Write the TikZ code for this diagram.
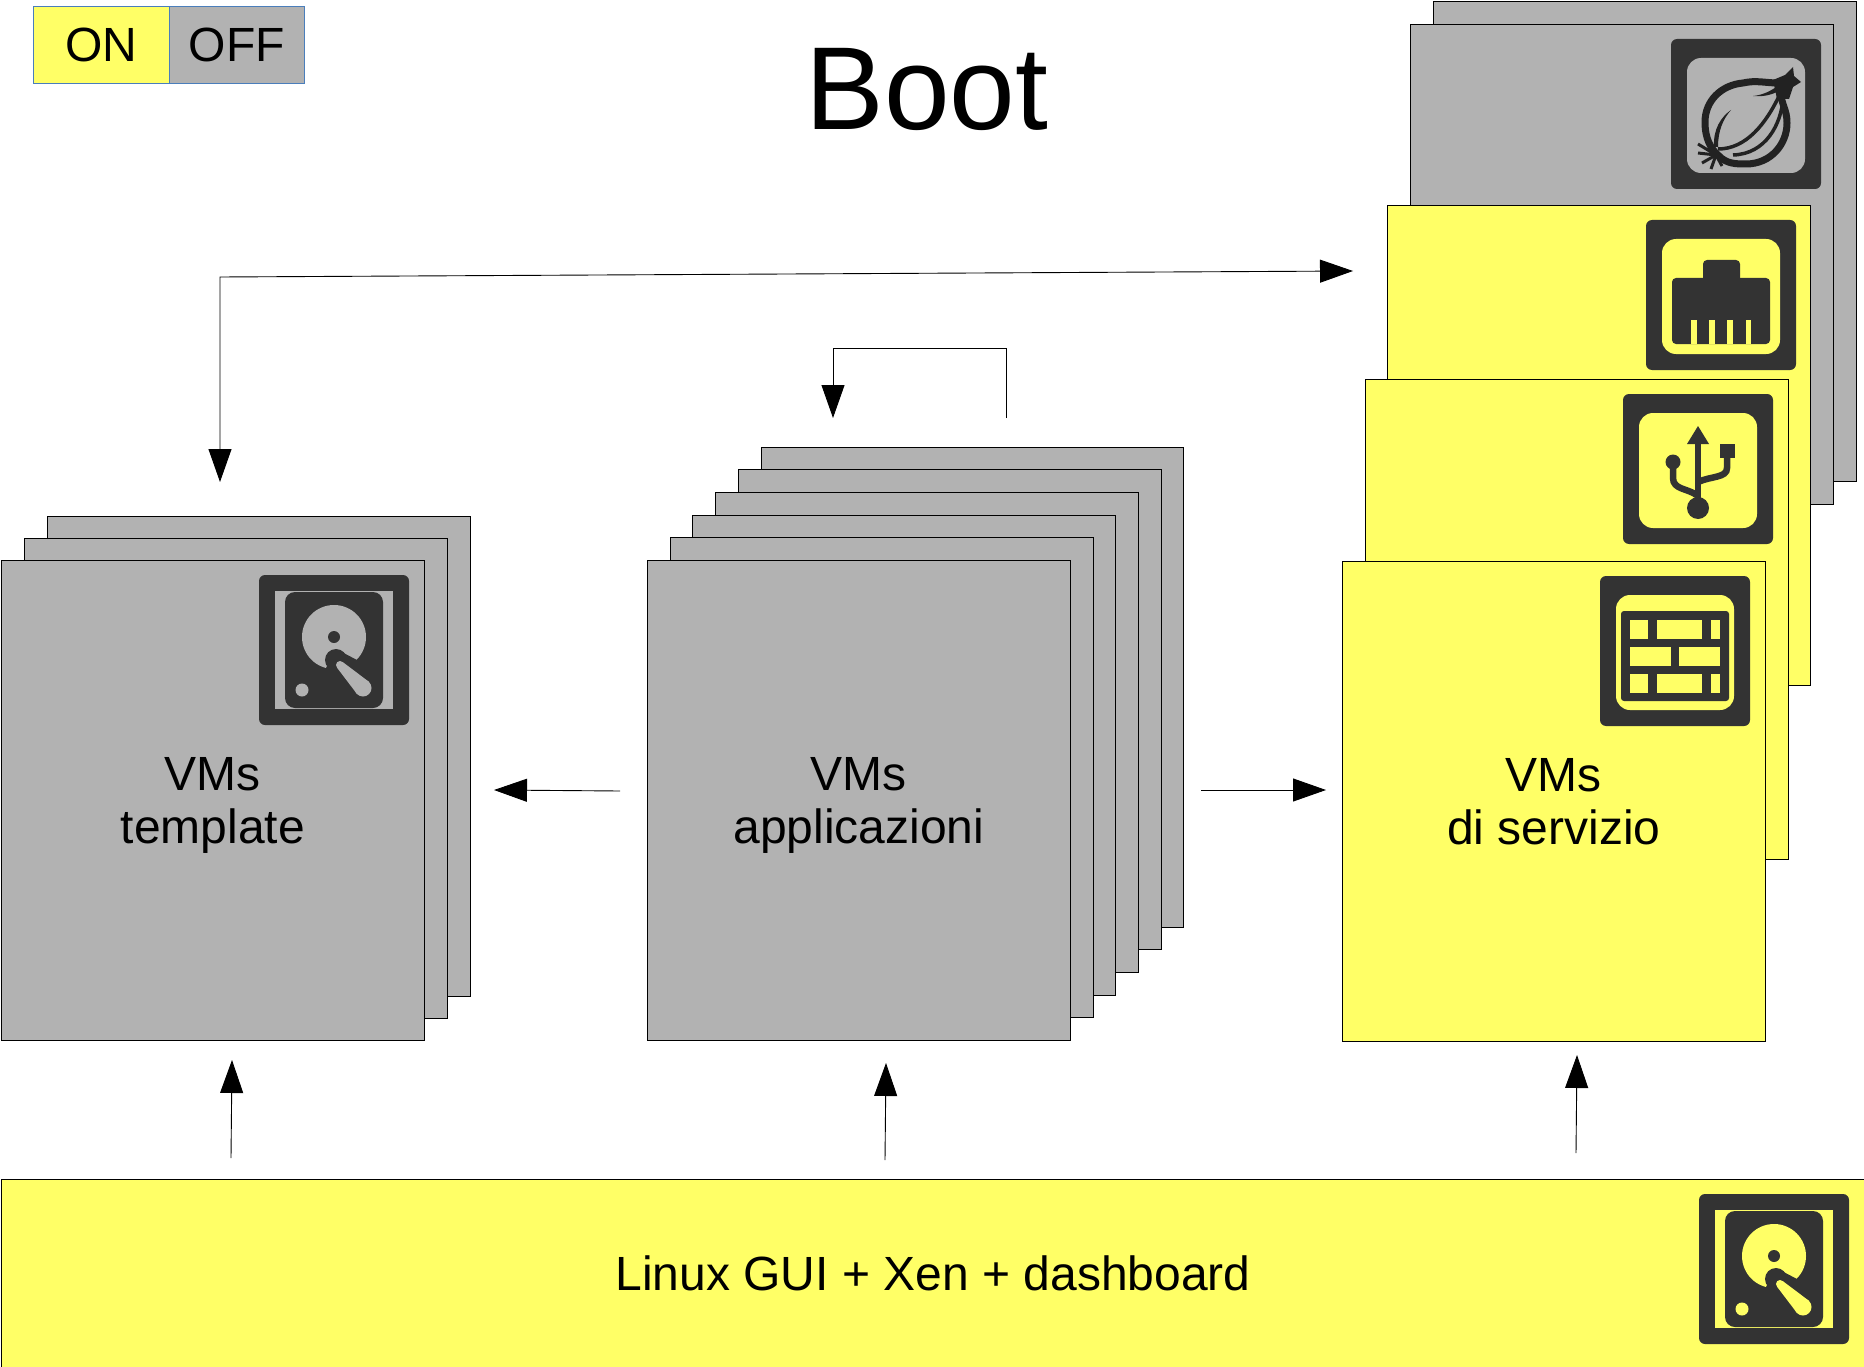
\documentclass[tikz,border=0pt]{standalone}
\usepackage{xcolor}
\usepackage{fontspec}
\setmainfont{Liberation Sans}
\usepackage{tikz}
\usetikzlibrary{shapes, arrows.meta, positioning}
\definecolor{OnYellow}{HTML}{FFFF66}
\definecolor{OffGray}{HTML}{B2B2B2}
\definecolor{IconDark}{HTML}{333333}
\definecolor{OnionDark}{HTML}{222222}
\definecolor{LegendBlue}{HTML}{4A7EBB}
\def\IconBase#1{%
  \fill[IconDark, rounded corners=6pt] (0,0) rectangle (150,150);
  \fill[#1, rounded corners=14pt] (16,19) rectangle (134,134);
}
\def\IconDisk#1{%
  \fill[IconDark, rounded corners=6pt] (0,0) rectangle (150,150);
  \fill[#1] (16,16) rectangle (134,134);
  \fill[IconDark, rounded corners=10pt] (26,17) rectangle (124,133);
  \fill[#1] (75,62) circle (32);
  \fill[IconDark] (75,62) circle (6);
  \fill[IconDark] (77,85) circle (11);
  \fill[IconDark] (77,74) -- (98,85) -- (90,110) -- (66,95) -- cycle;
  \fill[#1] (43,115) circle (6.5);
  \fill[#1] (81,90) circle (4);
  \fill[#1] (104,113) circle (8.5);
  \fill[#1] (83.8,87.1) -- (110.2,107) -- (98,119) -- (78.2,92.9) -- cycle;
}
\begin{document}
\begin{tikzpicture}
  [
    x=1pt, y=-1pt,
    Off/.style={rectangle, draw=black, fill=OffGray, line width=1pt, inner sep=0pt, anchor=north west, minimum width=422.5pt, minimum height=480pt, align=center, font=\fontsize{48}{53}\selectfont},
    On/.style={Off, fill=OnYellow},
    Legend/.style={rectangle, draw=LegendBlue, line width=1pt, inner sep=0pt, anchor=north west, minimum width=135.5pt, minimum height=77pt, font=\fontsize{48}{53}\selectfont},
    Link/.style={draw, line width=0.9pt, -{Triangle[length=33pt, width=23pt]}}
  ]
  \useasboundingbox (0,0) rectangle (1864,1367);
  % Legend and title
  \node[Legend, fill=OnYellow] (on) at(33, 6) {ON};
  \node[Legend, fill=OffGray] (off) at(168.5, 6) {OFF};
  \node[font=\fontsize{118}{124}\selectfont] (title) at(927, 89) {Boot};
  % VMs template
  \node[Off] (tmpl3) at(47, 515.5) {};
  \node[Off] (tmpl2) at(24, 538) {};
  \node[Off] (tmpl1) at(1, 560) {VMs\\\smash{template}};
  % VMs applicazioni
  \node[Off] (app6) at(760.5, 447) {};
  \node[Off] (app5) at(738, 469) {};
  \node[Off] (app4) at(715, 492) {};
  \node[Off] (app3) at(692, 515) {};
  \node[Off] (app2) at(670, 537) {};
  \node[Off] (app1) at(647, 560) {VMs\\\smash{applicazioni}};
  % VMs di servizio
  \node[Off] (srv5) at(1433, 1) {};
  \node[Off] (srv4) at(1410, 24) {};
  \node[On] (srv3) at(1387, 205) {};
  \node[On] (srv2) at(1365, 379) {};
  \node[On] (srv1) at(1342, 561) {VMs\\di servizio};
  % Dom0
  \node[rectangle, draw=black, fill=OnYellow, line width=1pt, inner sep=0pt, anchor=north west, minimum width=1863pt, minimum height=188pt, font=\fontsize{48}{53}\selectfont] (dom) at(1, 1179) {Linux GUI + Xen + dashboard};
  % Onion
  \begin{scope}[shift={(1671,39)}]
    \IconBase{OffGray}
    \draw[OnionDark, line width=7pt] (107,44) .. controls (95,44) and (85,41) .. (72,44) .. controls (50,46) and (34,62) .. (34,83) .. controls (34,100) and (40,110) .. (47,116) .. controls (55,125) and (65,125) .. (75,125) .. controls (100,125) and (116,105) .. (116,84) .. controls (116,70) and (110,65) .. (110,54);
    \fill[OnionDark] (102,41) -- (114,36) -- (122,28) -- (123,37) -- (130,43) -- (122,48) -- (118,60) -- (106,60) -- cycle;
    \fill[OnionDark] (82,57) .. controls (92,56) and (100,52) .. (108,46) -- (108,52) .. controls (100,56) and (92,58) .. (82,57) -- cycle;
    \draw[OnionDark, line width=3.5pt] (109,55) .. controls (95,85) and (75,110) .. (47,110);
    \draw[OnionDark, line width=3.5pt] (112,60) .. controls (110,85) and (95,115) .. (62,116);
    \fill[OnionDark] (60,71) .. controls (50,78) and (42,90) .. (43,108) -- (47,108) .. controls (47,92) and (52,80) .. (60,71) -- cycle;
    \draw[OnionDark, line width=3pt] (45,116) -- (27,105);
    \draw[OnionDark, line width=3pt] (45,116) -- (27,114);
    \draw[OnionDark, line width=3pt] (45,116) -- (31,124);
    \draw[OnionDark, line width=3pt] (45,116) -- (40,130);
    \draw[OnionDark, line width=3pt] (45,116) -- (51,127);
  \end{scope}
  % Network
  \begin{scope}[shift={(1646,220)}]
    \IconBase{OnYellow}
    \fill[IconDark, rounded corners=4pt] (26,58) rectangle (124,124);
    \fill[IconDark, rounded corners=4pt] (57,40) rectangle (94,62);
    \fill[OnYellow] (45,124) -- (45,100) -- (50.5,100) -- (50.5,124) -- cycle;
    \fill[OnYellow] (63,124) -- (63,100) -- (69,100) -- (69,124) -- cycle;
    \fill[OnYellow] (81,124) -- (81,100) -- (87,100) -- (87,124) -- cycle;
    \fill[OnYellow] (100,124) -- (100,100) -- (105,100) -- (105,124) -- cycle;
  \end{scope}
  % USB
  \begin{scope}[shift={(1623,394)}]
    \IconBase{OnYellow}
    \draw[IconDark, line width=6.5pt] (75,46) -- (75,110);
    \fill[IconDark] (75,32) -- (64,50) -- (86,50) -- cycle;
    \fill[IconDark] (75,114) circle (11);
    \fill[IconDark] (50,68) circle (7.5);
    \draw[IconDark, line width=6.5pt] (50,68) -- (50,84) .. controls (50,96) and (65,94) .. (75,102);
    \fill[IconDark] (97,50) rectangle (112,64);
    \draw[IconDark, line width=6.5pt] (104,62) -- (104,74) .. controls (104,84) and (88,82) .. (75,88);
  \end{scope}
  % Firewall
  \begin{scope}[shift={(1600,576)}]
    \IconBase{OnYellow}
    \fill[IconDark, rounded corners=3pt] (21,35) rectangle (129,125);
    \fill[OnYellow] (30,44) rectangle (48,63);
    \fill[OnYellow] (57,44) rectangle (102,63);
    \fill[OnYellow] (111,44) rectangle (120,63);
    \fill[OnYellow] (30,71) rectangle (71,90);
    \fill[OnYellow] (79,71) rectangle (120,90);
    \fill[OnYellow] (30,98) rectangle (48,117);
    \fill[OnYellow] (57,98) rectangle (102,117);
    \fill[OnYellow] (111,98) rectangle (120,117);
  \end{scope}
  % Disks
  \begin{scope}[shift={(259,575)}]
    \IconDisk{OffGray}
  \end{scope}
  \begin{scope}[shift={(1699,1194)}]
    \IconDisk{OnYellow}
  \end{scope}
  % Lines
  \coordinate (topright) at(1353, 271);
  \coordinate (topbend) at(220, 277);
  \coordinate (topleft) at(220, 482);
  \coordinate (loopstart) at(1006, 418);
  \coordinate (loopa) at(1006, 348);
  \coordinate (loopb) at(833, 348);
  \coordinate (loopend) at(833, 418);
  \coordinate (leftstart) at(620, 791);
  \coordinate (leftend) at(494, 790);
  \coordinate (rightstart) at(1201, 790);
  \coordinate (rightend) at(1326, 790);
  \coordinate (upastart) at(231, 1158);
  \coordinate (upaend) at(232, 1060);
  \coordinate (upbstart) at(885, 1160);
  \coordinate (upbend) at(886, 1063);
  \coordinate (upcstart) at(1576, 1153);
  \coordinate (upcend) at(1577, 1055);
  \path [Link, {Triangle[length=33pt, width=23pt]}-{Triangle[length=33pt, width=23pt]}] (topright) -- (topbend) -- (topleft);
  \path [Link] (loopstart) -- (loopa) -- (loopb) -- (loopend);
  \path [Link] (leftstart) -- (leftend);
  \path [Link] (rightstart) -- (rightend);
  \path [Link] (upastart) -- (upaend);
  \path [Link] (upbstart) -- (upbend);
  \path [Link] (upcstart) -- (upcend);
\end{tikzpicture}
\end{document}
